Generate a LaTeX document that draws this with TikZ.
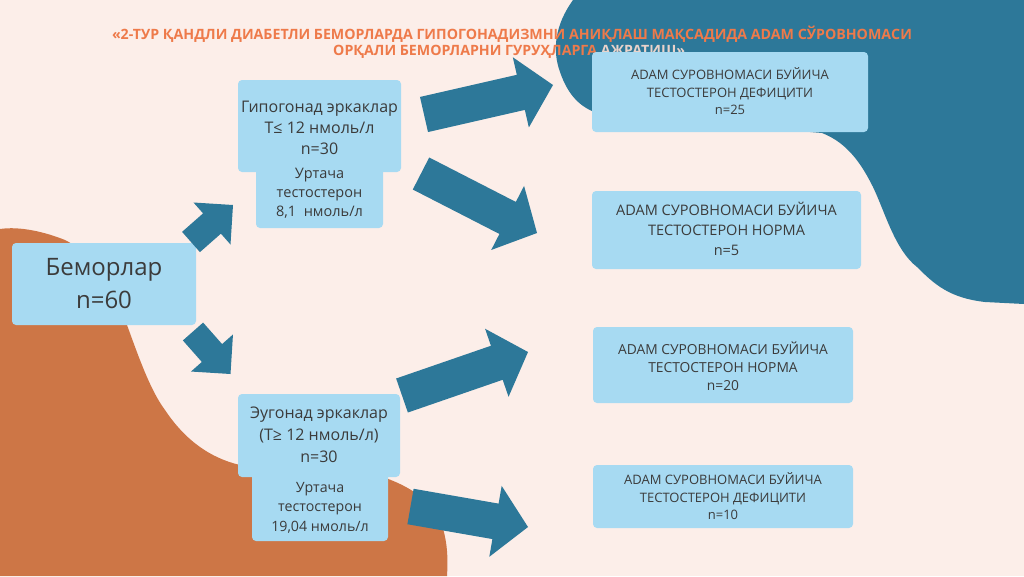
\documentclass[tikz,border=0pt]{standalone}
\usepackage{fontspec}
\setmainfont{Open Sans}
\usetikzlibrary{calc}
\definecolor{bg}{HTML}{FCEEE9}
\definecolor{blobblue}{HTML}{2D7899}
\definecolor{bloborange}{HTML}{CD7646}
\definecolor{boxblue}{HTML}{A7DAF2}
\definecolor{txt}{HTML}{3B3B3B}
\definecolor{titleor}{HTML}{EE7A4A}
\definecolor{titlepale}{HTML}{E9D3CB}
\newcommand\blockarr[5]{%
  \path ($(#2)!#5pt!(#1)$) coordinate (hb);
  \fill[arrowfill] ($(#1)!#3pt!90:(#2)$) -- ($(hb)!#3pt!90:(#2)$) -- ($(hb)!#4pt!90:(#2)$) -- (#2)
    -- ($(hb)!#4pt!-90:(#2)$) -- ($(hb)!#3pt!-90:(#2)$) -- ($(#1)!#3pt!-90:(#2)$) -- cycle;}
\begin{document}
\begin{tikzpicture}[x=1pt,y=-1pt,
  boxfill/.style={fill=boxblue, rounded corners=4pt, inner sep=0pt, draw=none},
  lbl/.style={text=txt, align=center, inner sep=0pt},
  arrowfill/.style={fill=blobblue},
  titletext/.style={text=titleor, inner sep=0pt, font=\bfseries\fontsize{14.2}{16}\selectfont}]
\fill[bg] (0,0) rectangle (1024,576);
\useasboundingbox (0,0) rectangle (1024,576);
% blobs
\fill[blobblue] (573,0) .. controls (555,25) and (552,50) .. (560,72)
  .. controls (568,95) and (580,108) .. (600,114) -- (822,133)
  .. controls (848,143) and (862,165) .. (873,187)
  .. controls (885,212) and (895,250) .. (917,267)
  .. controls (935,285) and (950,298) .. (985,302) -- (1024,304) -- (1024,0) -- cycle;
\fill[bloborange] (0,229) .. controls (20,226) and (45,232) .. (65,240)
  .. controls (95,255) and (115,290) .. (127,325)
  .. controls (138,355) and (150,390) .. (165,410)
  .. controls (185,440) and (210,458) .. (240,465) -- (380,476)
  .. controls (410,486) and (430,500) .. (440,520)
  .. controls (448,540) and (448,560) .. (447,576) -- (0,576) -- cycle;
% title
\node[titletext] (title1) at (512,34) {«2-ТУР ҚАНДЛИ ДИАБЕТЛИ БЕМОРЛАРДА ГИПОГОНАДИЗМНИ АНИҚЛАШ МАҚСАДИДА ADAM СЎРОВНОМАСИ};
\node[titletext, anchor=west] (title2) at (333,52) {ОРҚАЛИ БЕМОРЛАРНИ ГУРУҲЛАРГА {\color{titlepale}АЖРАТИШ»}};
% boxes
\node[boxfill, minimum width=184pt, minimum height=82pt] (pat) at (104,284) {};
\node[lbl, font=\fontsize{24}{33}\selectfont] (patT) at (104,284) {Беморлар\\n=60};

\node[boxfill, minimum width=127pt, minimum height=62pt] (hypoB) at (319.5,197) {};
\node[boxfill, minimum width=163pt, minimum height=92pt] (hypo) at (319.5,126) {};
\node[lbl, font=\fontsize{16}{21}\selectfont] (hypoT) at (319.5,128) {Гипогонад эркаклар\\T≤ 12 нмоль/л\\n=30};
\node[lbl, font=\fontsize{14.5}{19}\selectfont] (hypoBT) at (319.5,193) {Уртача\\тестостерон\\8,1~~нмоль/л};

\node[boxfill, minimum width=136pt, minimum height=70pt] (euB) at (320,506) {};
\node[boxfill, minimum width=162pt, minimum height=83pt] (eu) at (319,435.5) {};
\node[lbl, font=\fontsize{16}{22}\selectfont] (euT) at (319,435) {Эугонад эркаклар\\(T≥ 12 нмоль/л)\\n=30};
\node[lbl, font=\fontsize{14.2}{19.5}\selectfont] (euBT) at (320,507.5) {Уртача\\тестостерон\\19,04 нмоль/л};

\node[boxfill, minimum width=276pt, minimum height=80pt] (r1) at (730,92) {};
\node[lbl, font=\fontsize{13}{17.5}\selectfont] (r1T) at (730,91.5) {ADAM СУРОВНОМАСИ БУЙИЧА\\ТЕСТОСТЕРОН ДЕФИЦИТИ\\n=25};
\node[boxfill, minimum width=269pt, minimum height=78pt] (r2) at (726.5,230) {};
\node[lbl, font=\fontsize{14.5}{20}\selectfont] (r2T) at (726.5,229) {ADAM СУРОВНОМАСИ БУЙИЧА\\ТЕСТОСТЕРОН НОРМА\\n=5};
\node[boxfill, minimum width=260pt, minimum height=76pt] (r3) at (723,365) {};
\node[lbl, font=\fontsize{13.8}{18}\selectfont] (r3T) at (723,366) {ADAM СУРОВНОМАСИ БУЙИЧА\\ТЕСТОСТЕРОН НОРМА\\n=20};
\node[boxfill, minimum width=260pt, minimum height=63pt] (r4) at (723,496.5) {};
\node[lbl, font=\fontsize{13}{17.5}\selectfont] (r4T) at (723,496.5) {ADAM СУРОВНОМАСИ БУЙИЧА\\ТЕСТОСТЕРОН ДЕФИЦИТИ\\n=10};
% arrows
\coordinate (a1t) at (191,242); \coordinate (a1h) at (233,205);
\coordinate (a2t) at (193,331.5); \coordinate (a2h) at (230.5,374);
\coordinate (a3t) at (424,114.5); \coordinate (a3h) at (553,85);
\coordinate (a4t) at (421,173.5); \coordinate (a4h) at (537,233);
\coordinate (a5t) at (402,395.5); \coordinate (a5h) at (528,352);
\coordinate (a6t) at (410.5,506.5); \coordinate (a6h) at (528,527);
\blockarr{a1t}{a1h}{13.5}{28}{28}
\blockarr{a2t}{a2h}{13.5}{28}{28}
\blockarr{a3t}{a3h}{18}{36}{33}
\blockarr{a4t}{a4h}{18}{36}{33}
\blockarr{a5t}{a5h}{18}{36}{33}
\blockarr{a6t}{a6h}{18}{36}{33}
\end{tikzpicture}
\end{document}
